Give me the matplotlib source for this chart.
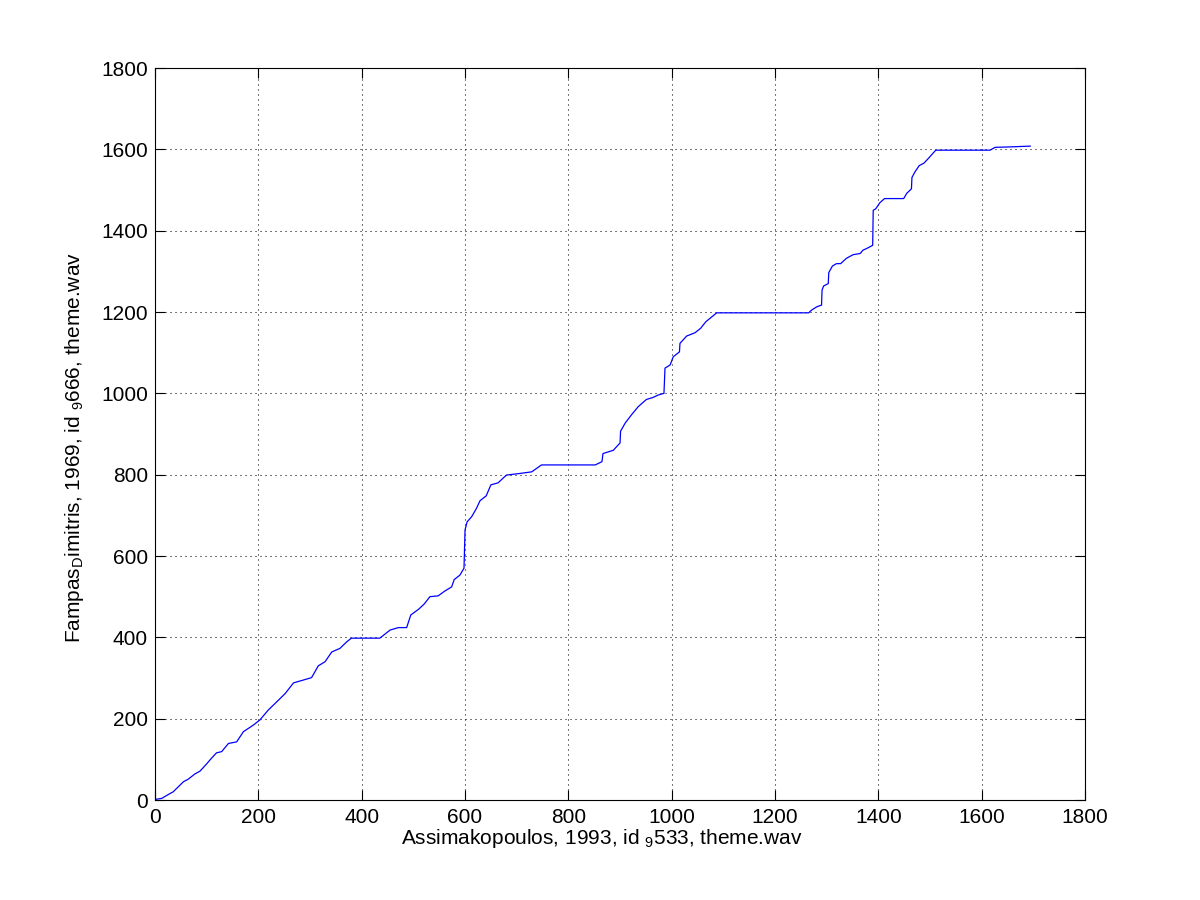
"""
plot.py
-------
DTW alignment path between two recordings of theme.wav
(MATLAB-style look: boxed axes, inward ticks, dotted grid).

Output:
    out.png
"""

import matplotlib
matplotlib.use("Agg")
import matplotlib.pyplot as plt

# ─── Data ────────────────────────────────────────────────────────────────────
PATH_X = [0, 3, 13, 29, 35, 55, 64, 77, 87, 100, 108, 119, 129, 142, 158,
          171, 190, 203, 219, 236, 252, 268, 287, 303, 316, 329, 342, 358,
          371, 380, 435, 455, 471, 487, 495, 510, 521, 532, 548, 561, 574,
          579, 590, 598, 600, 604, 613, 622, 629, 641, 650, 664, 680, 706,
          729, 748, 852, 865, 867, 887, 900, 901, 910, 922, 935, 951, 964,
          974, 985, 987, 997, 1003, 1015, 1016, 1029, 1045, 1056, 1066, 1087,
          1265, 1271, 1281, 1290, 1291, 1294, 1303, 1304, 1311, 1319, 1327,
          1338, 1351, 1365, 1370, 1377, 1389, 1390, 1395, 1403, 1412, 1449,
          1455, 1464, 1465, 1471, 1479, 1488, 1497, 1511, 1616, 1626, 1653,
          1694]

PATH_Y = [0, 2, 4, 16, 20, 45, 51, 64, 71, 89, 101, 116, 119, 139, 143,
          168, 184, 197, 221, 242, 262, 288, 295, 301, 330, 340, 364, 373,
          389, 398, 398, 418, 424, 424, 455, 469, 482, 500, 502, 514, 524,
          542, 553, 570, 664, 684, 697, 717, 736, 748, 775, 780, 799, 803,
          807, 824, 824, 832, 852, 860, 878, 907, 927, 947, 967, 985, 990,
          996, 1000, 1062, 1070, 1090, 1102, 1123, 1141, 1149, 1160, 1176, 1198,
          1198, 1205, 1213, 1217, 1254, 1264, 1270, 1297, 1313, 1319, 1319,
          1332, 1341, 1344, 1352, 1356, 1364, 1450, 1454, 1469, 1479, 1479,
          1492, 1503, 1531, 1545, 1560, 1566, 1578, 1598, 1598, 1605, 1606,
          1608]

TICKS = list(range(0, 1801, 200))

X_LABEL = r"Assimakopoulos, 1993, id $_{\mathsf{9}}$533, theme.wav"
Y_LABEL = r"Fampas$_{\mathsf{D}}$imitris, 1969, id $_{\mathsf{9}}$666, theme.wav"


def main():
    plt.rcParams["font.family"] = ["Liberation Sans", "DejaVu Sans"]
    plt.rcParams["mathtext.fontset"] = "custom"
    plt.rcParams["mathtext.sf"] = "Liberation Sans"
    plt.rcParams["mathtext.rm"] = "Liberation Sans"
    plt.rcParams["mathtext.default"] = "regular"

    fig = plt.figure(figsize=(12, 9), dpi=100)
    ax = fig.add_axes([0.1292, 0.1111, 0.775, 0.8133])

    ax.plot(PATH_X, PATH_Y, color="#0000ff", linewidth=0.9)

    ax.set_xlim(0, 1800)
    ax.set_ylim(0, 1800)
    ax.set_xticks(TICKS)
    ax.set_yticks(TICKS)

    # MATLAB-ish axes box
    ax.grid(True, color="black", linestyle=(0, (1, 3.8)), linewidth=0.75)
    ax.tick_params(direction="in", length=7, width=0.8, top=True, right=True,
                   pad=5, labelsize=15, colors="black")
    ax.tick_params(axis="x", pad=6)
    for sp in ax.spines.values():
        sp.set_linewidth(0.8)
        sp.set_color("black")

    ax.set_xlabel(X_LABEL, fontsize=15, labelpad=0)
    ax.set_ylabel(Y_LABEL, fontsize=15, labelpad=11)
    # labels sit a little off-centre in the original
    ax.xaxis.label.set_x(0.48)
    ax.yaxis.label.set_y(0.482)

    fig.savefig("out.png", dpi=100, facecolor="white")
    plt.close(fig)


if __name__ == "__main__":
    main()
